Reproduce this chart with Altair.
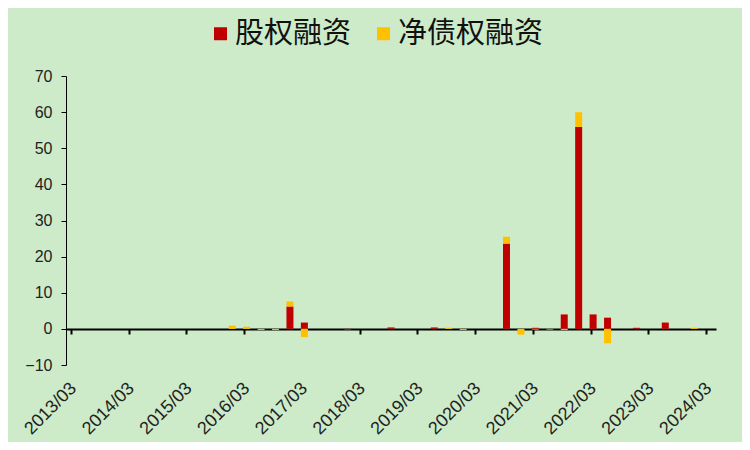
import altair as alt
import pandas as pd

quarters = [
    "2013/03", "2013/06", "2013/09", "2013/12",
    "2014/03", "2014/06", "2014/09", "2014/12",
    "2015/03", "2015/06", "2015/09", "2015/12",
    "2016/03", "2016/06", "2016/09", "2016/12",
    "2017/03", "2017/06", "2017/09", "2017/12",
    "2018/03", "2018/06", "2018/09", "2018/12",
    "2019/03", "2019/06", "2019/09", "2019/12",
    "2020/03", "2020/06", "2020/09", "2020/12",
    "2021/03", "2021/06", "2021/09", "2021/12",
    "2022/03", "2022/06", "2022/09", "2022/12",
    "2023/03", "2023/06", "2023/09", "2023/12",
    "2024/03",
]

equity = [
    0, 0, 0, 0,
    0, 0, 0, 0,
    0, 0, 0, 0,
    0, 0, 0, 6.2,
    1.75, 0, 0, -0.3,
    0, 0, 0.4, 0,
    0, 0.4, 0, 0,
    0, 0, 23.6, 0,
    0.3, 0, 4.0, 55.9,
    4.0, 3.1, 0, 0.3,
    0, 1.75, 0, 0,
    0,
]

net_debt = [
    0, 0, 0, 0,
    0, 0, 0, 0,
    0, 0, 0, 0.9,
    0.6, -0.3, -0.3, 1.4,
    -2.3, 0, 0, 0,
    0, 0, 0, 0,
    0, 0, 0.3, -0.3,
    0, 0, 1.9, -1.6,
    -0.2, -0.2, -0.3, 4.1,
    0, -4.0, 0, 0,
    0, 0, 0, 0.3,
    0,
]

series_names = ["股权融资", "净债权融资"]
series_colors = ["#C00000", "#FFC000"]

year_labels = ["2013/03", "2014/03", "2015/03", "2016/03", "2017/03", "2018/03",
               "2019/03", "2020/03", "2021/03", "2022/03", "2023/03", "2024/03"]

y_ticks = [-10, 0, 10, 20, 30, 40, 50, 60, 70]


def month_pos(label):
    y, m = label.split("/")
    return (int(y) - 2013) * 12 + (int(m) - 3) + 0.5


rows = []
for q, e, d in zip(quarters, equity, net_debt):
    rows.append({"quarter": q, "pos": month_pos(q), "series": series_names[0], "value": e, "ord": 0})
    rows.append({"quarter": q, "pos": month_pos(q), "series": series_names[1], "value": d, "ord": 1})
df = pd.DataFrame(rows)

tick_vals = [i * 12 for i in range(len(year_labels))]
label_expr = "[" + ",".join("'" + s + "'" for s in year_labels) + "][round(datum.value/12)]"

chart = alt.Chart(df).mark_bar(size=7).encode(
    x=alt.X(
        "pos:Q",
        scale=alt.Scale(domain=[0, 133], nice=False, zero=False),
        axis=alt.Axis(
            values=tick_vals,
            labelExpr=label_expr,
            labelOverlap=False,
            title=None,
            grid=False,
            offset=-36,
            domainColor="black",
            domainWidth=2,
            tickColor="black",
            tickWidth=2,
            tickSize=5,
            labelAngle=-45,
            labelAlign="right",
            labelBaseline="top",
            labelPadding=45,
            labelOffset=-4,
            labelFont="Liberation Sans",
            labelFontSize=18,
            labelColor="#222222",
        ),
    ),
    y=alt.Y(
        "value:Q",
        stack="zero",
        scale=alt.Scale(domain=[-10, 70], nice=False),
        axis=alt.Axis(
            values=y_ticks,
            title=None,
            grid=False,
            domainColor="black",
            domainWidth=1,
            tickColor="black",
            tickWidth=1,
            tickSize=5,
            labelPadding=9,
            labelFont="Liberation Sans",
            labelFontSize=16,
            labelColor="#222222",
        ),
    ),
    color=alt.Color(
        "series:N",
        scale=alt.Scale(domain=series_names, range=series_colors),
        legend=alt.Legend(
            orient="none",
            legendX=140,
            legendY=-57,
            direction="horizontal",
            title=None,
            symbolType="square",
            symbolSize=169,
            symbolStrokeWidth=0,
            symbolOpacity=1,
            labelFont="Noto Sans CJK SC",
            labelFontSize=29,
            labelColor="#111111",
            labelOffset=0,
            columnPadding=17,
            padding=0,
        ),
    ),
    order=alt.Order("ord:Q"),
).properties(
    width=650,
    height=289,
    autosize=alt.AutoSizeParams(type="none"),
    padding={"left": 58, "top": 68, "right": 26, "bottom": 77},
    background="#CDEBC9",
).configure_view(stroke=None)

chart.save("out.html", embed_options={"renderer": "svg", "actions": False})
